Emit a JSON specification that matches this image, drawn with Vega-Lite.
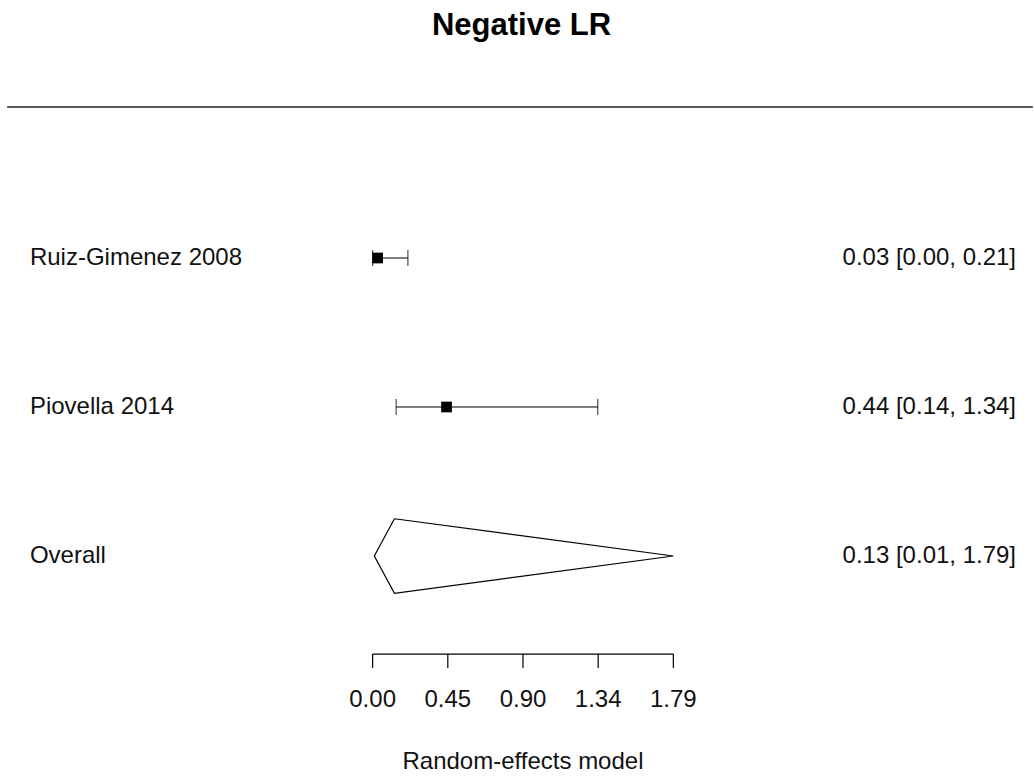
{
  "$schema": "https://vega.github.io/schema/vega-lite/v6.json",
  "width": 1034,
  "height": 780,
  "autosize": {"type": "fit", "contains": "padding"},
  "padding": 0,
  "background": "white",
  "config": {"view": {"stroke": null}, "font": "Liberation Sans"},
  "datasets": {
    "studies": [
      {"label": "Ruiz-Gimenez 2008", "est": 0.03, "lo": 0.0, "hi": 0.21, "row": 3, "txt": "0.03 [0.00, 0.21]"},
      {"label": "Piovella 2014", "est": 0.44, "lo": 0.14, "hi": 1.34, "row": 2, "txt": "0.44 [0.14, 1.34]"}
    ],
    "overall": [
      {"label": "Overall", "est": 0.13, "lo": 0.01, "hi": 1.79, "row": 1, "txt": "0.13 [0.01, 1.79]"}
    ],
    "poly": [
      {"px": 0.13, "py": 1.25, "ord": 1},
      {"px": 1.79, "py": 1.0, "ord": 2},
      {"px": 0.13, "py": 0.75, "ord": 3},
      {"px": 0.01, "py": 1.0, "ord": 4},
      {"px": 0.13, "py": 1.25, "ord": 5}
    ],
    "ticks": [
      {"v": 0.0, "lab": "0.00"},
      {"v": 0.4475, "lab": "0.45"},
      {"v": 0.895, "lab": "0.90"},
      {"v": 1.3425, "lab": "1.34"},
      {"v": 1.79, "lab": "1.79"}
    ]
  },
  "layer": [
    {
      "data": {"name": "studies"},
      "mark": {"type": "rule", "color": "black", "strokeWidth": 1.2},
      "encoding": {
        "x": {"field": "lo", "type": "quantitative", "scale": {"domain": [-2.2181, 3.9309], "nice": false, "zero": false}, "axis": null},
        "x2": {"field": "hi"},
        "y": {"field": "row", "type": "quantitative", "scale": {"domain": [-0.5034, 4.7315], "nice": false, "zero": false}, "axis": null}
      }
    },
    {
      "data": {"name": "studies"},
      "mark": {"type": "tick", "orient": "vertical", "color": "black", "thickness": 1.2, "size": 16},
      "encoding": {
        "x": {"field": "lo", "type": "quantitative"},
        "y": {"field": "row", "type": "quantitative"}
      }
    },
    {
      "data": {"name": "studies"},
      "mark": {"type": "tick", "orient": "vertical", "color": "black", "thickness": 1.2, "size": 16},
      "encoding": {
        "x": {"field": "hi", "type": "quantitative"},
        "y": {"field": "row", "type": "quantitative"}
      }
    },
    {
      "data": {"name": "studies"},
      "mark": {"type": "point", "shape": "square", "filled": true, "color": "black", "size": 115, "opacity": 1},
      "encoding": {
        "x": {"field": "est", "type": "quantitative"},
        "y": {"field": "row", "type": "quantitative"}
      }
    },
    {
      "data": {"name": "poly"},
      "mark": {"type": "line", "color": "black", "strokeWidth": 1.2, "strokeJoin": "miter"},
      "encoding": {
        "x": {"field": "px", "type": "quantitative"},
        "y": {"field": "py", "type": "quantitative"},
        "order": {"field": "ord", "type": "quantitative"}
      }
    },
    {
      "data": {"name": "studies"},
      "mark": {"type": "text", "align": "left", "baseline": "middle", "fontSize": 24, "color": "#111"},
      "encoding": {
        "x": {"datum": -2.04},
        "y": {"field": "row", "type": "quantitative"},
        "text": {"field": "label"}
      }
    },
    {
      "data": {"name": "overall"},
      "mark": {"type": "text", "align": "left", "baseline": "middle", "fontSize": 24, "color": "#111"},
      "encoding": {
        "x": {"datum": -2.04},
        "y": {"field": "row", "type": "quantitative"},
        "text": {"field": "label"}
      }
    },
    {
      "data": {"name": "studies"},
      "mark": {"type": "text", "align": "right", "baseline": "middle", "fontSize": 24, "color": "#111"},
      "encoding": {
        "x": {"datum": 3.83},
        "y": {"field": "row", "type": "quantitative"},
        "text": {"field": "txt"}
      }
    },
    {
      "data": {"name": "overall"},
      "mark": {"type": "text", "align": "right", "baseline": "middle", "fontSize": 24, "color": "#111"},
      "encoding": {
        "x": {"datum": 3.83},
        "y": {"field": "row", "type": "quantitative"},
        "text": {"field": "txt"}
      }
    },
    {
      "data": {"values": [{}]},
      "mark": {"type": "rule", "color": "black", "strokeWidth": 1.2},
      "encoding": {
        "x": {"datum": 0},
        "x2": {"datum": 1.79},
        "y": {"datum": 0.342}
      }
    },
    {
      "data": {"name": "ticks"},
      "mark": {"type": "rule", "color": "black", "strokeWidth": 1.2},
      "encoding": {
        "x": {"field": "v", "type": "quantitative"},
        "y": {"datum": 0.342},
        "y2": {"datum": 0.248}
      }
    },
    {
      "data": {"name": "ticks"},
      "mark": {"type": "text", "align": "center", "baseline": "middle", "fontSize": 24, "color": "#111"},
      "encoding": {
        "x": {"field": "v", "type": "quantitative"},
        "y": {"datum": 0.034},
        "text": {"field": "lab"}
      }
    },
    {
      "data": {"values": [{"t": "Random-effects model"}]},
      "mark": {"type": "text", "align": "center", "baseline": "middle", "fontSize": 24, "color": "#111"},
      "encoding": {
        "x": {"datum": 0.895},
        "y": {"datum": -0.383},
        "text": {"field": "t"}
      }
    },
    {
      "data": {"values": [{}]},
      "mark": {"type": "rule", "color": "#222", "strokeWidth": 1.6},
      "encoding": {
        "x": {"datum": -2.176},
        "x2": {"datum": 3.93},
        "y": {"datum": 4.013}
      }
    },
    {
      "data": {"values": [{"t": "Negative LR"}]},
      "mark": {"type": "text", "align": "center", "baseline": "alphabetic", "fontSize": 31, "fontWeight": "bold", "color": "black"},
      "encoding": {
        "x": {"datum": 0.886},
        "y": {"datum": 4.497},
        "text": {"field": "t"}
      }
    }
  ]
}
